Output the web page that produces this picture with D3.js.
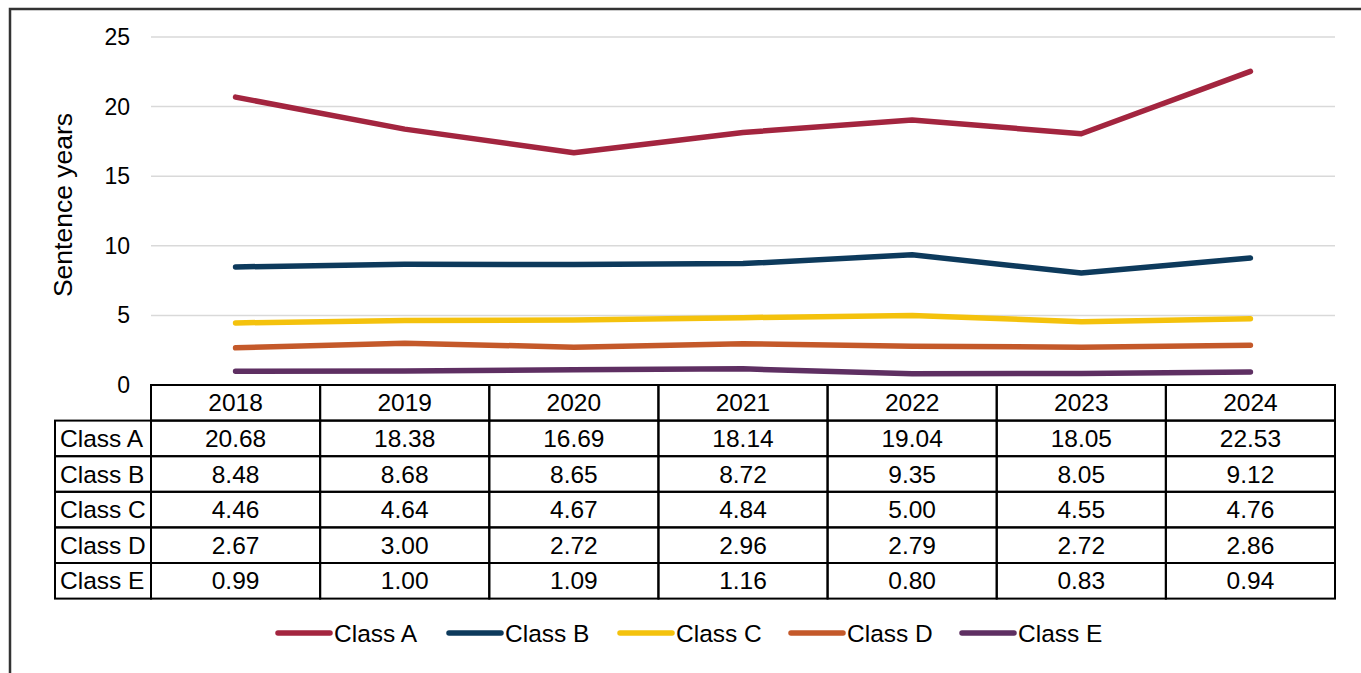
<!DOCTYPE html>
<html>
<head>
<meta charset="utf-8">
<script src="https://cdn.jsdelivr.net/npm/d3@7"></script>
<style>
  body { margin: 0; background: #fff; }
  text { font-family: "Liberation Sans", Arial, sans-serif; fill: #000; }
</style>
</head>
<body>
<script>
var width = 1361,
    height = 673;

var years = ["2018", "2019", "2020", "2021", "2022", "2023", "2024"];
var classes = ["Class A", "Class B", "Class C", "Class D", "Class E"];
var classA = [20.68, 18.38, 16.69, 18.14, 19.04, 18.05, 22.53];
var classB = [8.48, 8.68, 8.65, 8.72, 9.35, 8.05, 9.12];
var classC = [4.46, 4.64, 4.67, 4.84, 5.00, 4.55, 4.76];
var classD = [2.67, 3.00, 2.72, 2.96, 2.79, 2.72, 2.86];
var classE = [0.99, 1.00, 1.09, 1.16, 0.80, 0.83, 0.94];
var yTicks = [0, 5, 10, 15, 20, 25];
var colors = ["#a3253f", "#0d3a5c", "#f4c20d", "#c4592a", "#5e2f62"];

var series = [classA, classB, classC, classD, classE];

var svg = d3.select("body").append("svg")
            .attr("width", width)
            .attr("height", height);

// frame
svg.append("path")
   .attr("d", "M10,673V9H1361")
   .attr("fill", "none")
   .attr("stroke", "#333")
   .attr("stroke-width", 2.5);

var x = d3.scaleBand().domain(years).range([151, 1335]);
var y = d3.scaleLinear().domain([0, 25]).range([385, 37]);

// gridlines
svg.append("g").selectAll("line")
   .data(yTicks.filter(function(d) { return d > 0; }))
   .enter().append("line")
   .attr("x1", 151).attr("x2", 1335)
   .attr("y1", function(d) { return y(d); })
   .attr("y2", function(d) { return y(d); })
   .attr("stroke", "#d9d9d9")
   .attr("stroke-width", 1.5);

// y tick labels
svg.append("g").selectAll("text")
   .data(yTicks)
   .enter().append("text")
   .attr("x", 130)
   .attr("y", function(d) { return y(d); })
   .attr("dy", "0.35em")
   .attr("text-anchor", "end")
   .style("font-size", "23px")
   .text(function(d) { return d; });

svg.append("text")
   .attr("transform", "translate(72,205)rotate(-90)")
   .attr("text-anchor", "middle")
   .style("font-size", "26.5px")
   .text("Sentence years");

// lines
var line = d3.line()
  .x(function(d, i) { return x(years[i]) + x.bandwidth() / 2; })
  .y(function(d) { return y(d); });

svg.append("g").selectAll("path")
   .data(series)
   .enter().append("path")
   .attr("d", line)
   .attr("fill", "none")
   .attr("stroke", function(d, i) { return colors[i]; })
   .attr("stroke-width", 5.5)
   .attr("stroke-linecap", "round")
   .attr("stroke-linejoin", "round");

// data table
var rowH = 35.6,
    tableTop = 385,
    labelX = 55,
    fs = "24.5px";

var table = svg.append("g");

// header row
table.selectAll(".hcell")
   .data(years)
   .enter().append("rect")
   .attr("x", function(d) { return x(d); })
   .attr("y", tableTop)
   .attr("width", x.bandwidth())
   .attr("height", rowH)
   .attr("fill", "none")
   .attr("stroke", "#000")
   .attr("stroke-width", 2);

table.selectAll(".htext")
   .data(years)
   .enter().append("text")
   .attr("x", function(d) { return x(d) + x.bandwidth() / 2; })
   .attr("y", tableTop + rowH / 2)
   .attr("dy", "0.35em")
   .attr("text-anchor", "middle")
   .style("font-size", fs)
   .text(function(d) { return d; });

series.forEach(function(vals, r) {
  var ry = tableTop + rowH * (r + 1);
  table.append("rect")
     .attr("x", labelX).attr("y", ry)
     .attr("width", 151 - labelX).attr("height", rowH)
     .attr("fill", "none").attr("stroke", "#000").attr("stroke-width", 2);
  table.append("text")
     .attr("x", labelX + 5).attr("y", ry + rowH / 2)
     .attr("dy", "0.35em")
     .style("font-size", fs)
     .text(classes[r]);
  vals.forEach(function(v, i) {
    table.append("rect")
       .attr("x", x(years[i])).attr("y", ry)
       .attr("width", x.bandwidth()).attr("height", rowH)
       .attr("fill", "none").attr("stroke", "#000").attr("stroke-width", 2);
    table.append("text")
       .attr("x", x(years[i]) + x.bandwidth() / 2).attr("y", ry + rowH / 2)
       .attr("dy", "0.35em")
       .attr("text-anchor", "middle")
       .style("font-size", fs)
       .text(v.toFixed(2));
  });
});

// legend
var legend = svg.append("g").selectAll("g")
   .data(classes)
   .enter().append("g")
   .attr("transform", function(d, i) { return "translate(" + (278 + i * 171) + ",633)"; });

legend.append("line")
   .attr("x1", 0).attr("x2", 52)
   .attr("stroke", function(d, i) { return colors[i]; })
   .attr("stroke-width", 5.5)
   .attr("stroke-linecap", "round");

legend.append("text")
   .attr("x", 56)
   .attr("dy", "0.35em")
   .style("font-size", fs)
   .text(function(d) { return d; });
</script>
</body>
</html>
